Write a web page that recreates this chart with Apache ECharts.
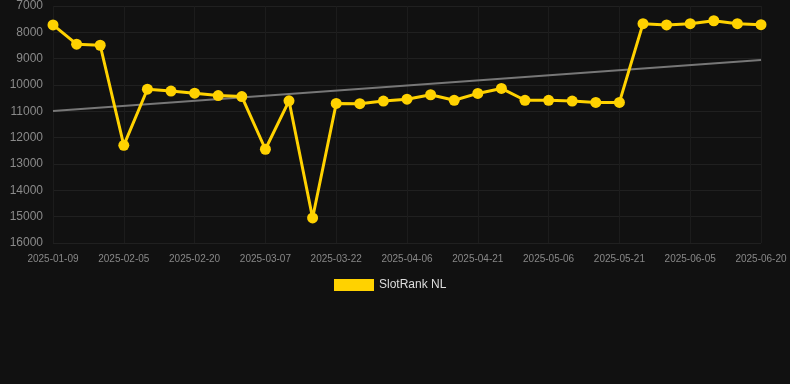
<!DOCTYPE html>
<html>
<head>
<meta charset="utf-8">
<script src="https://cdn.jsdelivr.net/npm/echarts@6/dist/echarts.min.js"></script>
<style>
  html, body { margin: 0; padding: 0; background: #111111; }
  #chart { width: 790px; height: 384px; }
</style>
</head>
<body>
<div id="chart"></div>
<script>
// dates of the rank samples (only every third one is labelled on the axis)
var dates = [
  '2025-01-09', '2025-01-18', '2025-01-27', '2025-02-05', '2025-02-10', '2025-02-15',
  '2025-02-20', '2025-02-25', '2025-03-02', '2025-03-07', '2025-03-12', '2025-03-17',
  '2025-03-22', '2025-03-27', '2025-04-01', '2025-04-06', '2025-04-11', '2025-04-16',
  '2025-04-21', '2025-04-26', '2025-05-01', '2025-05-06', '2025-05-11', '2025-05-16',
  '2025-05-21', '2025-05-26', '2025-05-31', '2025-06-05', '2025-06-10', '2025-06-15',
  '2025-06-20'
];

var slotRank = [
  7720, 8450, 8490, 12290, 10160, 10230, 10310, 10400, 10440, 12440, 10600, 15050,
  10700, 10710, 10610, 10540, 10370, 10580, 10320, 10130, 10580, 10580, 10610, 10660,
  10660, 7670, 7720, 7670, 7560, 7670, 7710
];

// trend line end points (first and last date)
var trendEnds = [10990, 9050];

var yTicks = { min: 7000, max: 16000, interval: 1000 };

var trendData = dates.map(function (d, i) {
  if (i === 0) return trendEnds[0];
  if (i === dates.length - 1) return trendEnds[1];
  return null;
});

var myChart = echarts.init(document.getElementById('chart'));

myChart.setOption({
  backgroundColor: '#111111',
  animation: false,
  grid: { left: 53, right: 29, top: 6, bottom: 141 },
  legend: {
    data: [{ name: 'SlotRank NL', icon: 'rect' }],
    top: 274,
    left: 329,
    itemWidth: 40,
    itemHeight: 12,
    textStyle: { color: '#dddddd', fontSize: 12, fontFamily: 'Arial, "Liberation Sans", sans-serif' }
  },
  xAxis: {
    type: 'category',
    data: dates,
    boundaryGap: false,
    axisLine: { show: false },
    axisTick: { show: false },
    axisLabel: {
      interval: 2,
      color: '#888888',
      fontSize: 10,
      margin: 11,
      fontFamily: 'Arial, "Liberation Sans", sans-serif'
    },
    splitLine: { show: true, interval: 2, lineStyle: { color: '#1c1c1c' } }
  },
  yAxis: {
    type: 'value',
    inverse: true,
    min: yTicks.min,
    max: yTicks.max,
    interval: yTicks.interval,
    axisLine: { show: false },
    axisTick: { show: false },
    axisLabel: {
      color: '#8a8a8a',
      fontSize: 12,
      margin: 10,
      formatter: function (v) { return String(v); },
      fontFamily: 'Arial, "Liberation Sans", sans-serif'
    },
    splitLine: { lineStyle: { color: '#202020' } }
  },
  series: [
    {
      name: 'trend',
      type: 'line',
      data: trendData,
      connectNulls: true,
      symbol: 'none',
      silent: true,
      lineStyle: { color: '#777777', width: 2 },
      z: 1
    },
    {
      name: 'SlotRank NL',
      type: 'line',
      data: slotRank,
      symbol: 'circle',
      symbolSize: 11,
      itemStyle: { color: '#ffd200' },
      lineStyle: { color: '#ffd200', width: 3 },
      z: 2
    }
  ]
});
</script>
</body>
</html>
